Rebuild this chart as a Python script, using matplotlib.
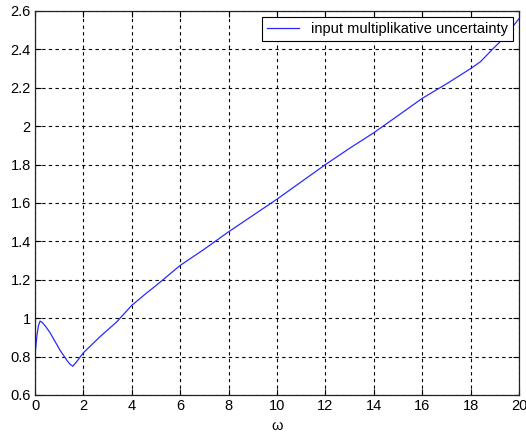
import matplotlib
matplotlib.use("Agg")
import matplotlib.pyplot as plt
import numpy as np

# values
omega = [0.0, 0.04, 0.08, 0.14, 0.21, 0.3, 0.45, 0.62, 0.8, 1.03, 1.31, 1.45,
         1.56, 1.7, 2.0, 2.69, 3.37, 4.0, 4.6, 5.0, 6.0, 7.0, 8.0, 9.0, 10.0,
         11.0, 12.0, 13.0, 14.0, 15.0, 16.0, 17.0, 18.0, 18.4, 18.9, 19.3,
         19.75, 20.0]
uncert = [0.80, 0.86, 0.91, 0.96, 0.985, 0.978, 0.955, 0.925, 0.885, 0.834,
          0.782, 0.76, 0.75, 0.77, 0.82, 0.904, 0.98, 1.067, 1.13, 1.17,
          1.275, 1.36, 1.45, 1.535, 1.62, 1.71, 1.80, 1.885, 1.966, 2.055,
          2.145, 2.22, 2.30, 2.335, 2.40, 2.45, 2.52, 2.56]

xticks = np.arange(0, 21, 2)
yticks = np.arange(0.6, 2.61, 0.2)

plt.rcParams["font.family"] = ["Liberation Sans", "DejaVu Sans"]

fig = plt.figure(figsize=(5.26, 4.34), dpi=100)
ax = fig.add_axes([35 / 526, 1 - 395 / 434, 484 / 526, 384 / 434])

ax.plot(omega, uncert, color="#2a2aff", linewidth=0.9,
        label="input multiplikative uncertainty")

ax.set_xlim(0, 20)
ax.set_ylim(0.6, 2.6)
ax.set_xticks(xticks)
ax.set_yticks(yticks)
ax.set_xticklabels([f"{t:g}" for t in xticks])
ax.set_yticklabels([f"{t:g}" for t in yticks])
ax.tick_params(direction="in", length=4, labelsize=10.5, top=True, right=True,
               pad=3)
ax.grid(True, color="black", linestyle=(0, (3, 3)), linewidth=0.8)
for s in ax.spines.values():
    s.set_linewidth(0.9)
    s.set_color("#222222")

ax.set_xlabel("ω", fontsize=10.5, labelpad=4)

leg = ax.legend(loc="upper right", fontsize=10.5, fancybox=False, framealpha=1,
                edgecolor="black", borderaxespad=0.4, handlelength=2.2,
                handletextpad=0.8, borderpad=0.35)
leg.get_frame().set_linewidth(0.8)

fig.savefig("out.png", dpi=100)
